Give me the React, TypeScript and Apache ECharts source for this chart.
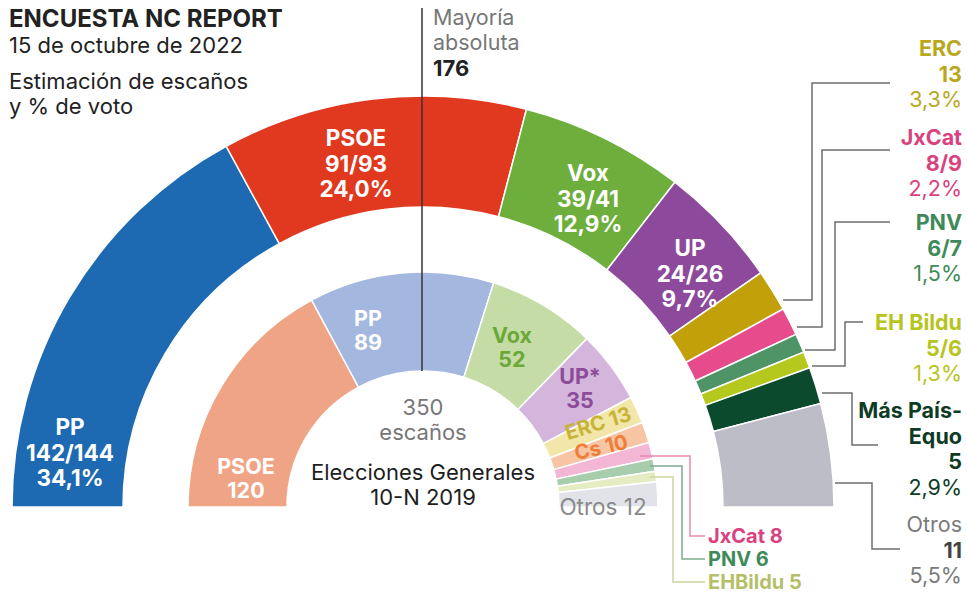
import React, { useEffect, useRef } from "react";
import * as echarts from "echarts";

// ---- Outer ring: NC Report poll, 15 Oct 2022 (arc proportional to vote share) ----
const outerNames = ["PP", "PSOE", "Vox", "UP", "ERC", "JxCat", "PNV", "EH Bildu", "Más País-Equo", "Otros"];
const outerSeats = ["142/144", "91/93", "39/41", "24/26", "13", "8/9", "6/7", "5/6", "5", "11"];
const outerVote = ["34,1%", "24,0%", "12,9%", "9,7%", "3,3%", "2,2%", "1,5%", "1,3%", "2,9%", "5,5%"];
const outerArc = [34.1, 24.0, 12.9, 9.7, 3.3, 2.2, 1.5, 1.3, 2.9, 8.1];
const outerColors = ["#1d6ab3", "#e1391f", "#6dae3d", "#8d4a9c", "#c1a00a", "#e64c8b", "#4f9467", "#b4c81e", "#0b4a2c", "#bcbdc7"];

// ---- Inner ring: general election 10-N 2019 (seats) ----
const innerNames = ["PSOE", "PP", "Vox", "UP*", "ERC", "Cs", "JxCat", "PNV", "EHBildu", "Otros"];
const innerSeats = [120, 89, 52, 35, 13, 10, 8, 6, 5, 12];
const innerColors = ["#efa585", "#a4b7df", "#c6dca6", "#d4b5dc", "#f2e7a9", "#f8c5a4", "#f3b6d4", "#a7cdad", "#e5ecc2", "#e2e3e8"];

const FONT = "Inter, Roboto, 'Noto Sans', sans-serif";

function txt(x: number, y: number, text: string, opts: any = {}) {
  const align = opts.align || "center";
  return {
    type: "text",
    x,
    y,
    rotation: opts.rotation || 0,
    z: 50,
    style: {
      text,
      fill: opts.fill || "#222",
      font: `${opts.weight || "normal"} ${opts.size || 22}px ${FONT}`,
      align,
      textAlign: align,
      verticalAlign: "middle",
      textVerticalAlign: "middle",
      lineHeight: opts.lineHeight || 25,
    },
  };
}

function poly(points: number[][], stroke: string, width = 1.5) {
  return {
    type: "polyline",
    z: 40,
    shape: { points },
    style: { stroke, lineWidth: width, fill: null },
  };
}

export default function App() {
  const ref = useRef<HTMLDivElement>(null);
  useEffect(() => {
    if (!ref.current) return;
    const chart = echarts.init(ref.current, undefined, { renderer: "svg" });

    const outerLabelPos: Record<number, number[]> = { 0: [70, 452], 1: [356, 163], 2: [588, 198], 3: [690, 273] };
    const innerLabelPos: Record<number, any> = {
      0: { p: [246, 478], fill: "#fff" },
      1: { p: [368, 330], fill: "#fff" },
      2: { p: [512, 347], fill: "#6ba83a" },
      3: { p: [580, 388], fill: "#8c4c9a" },
    };

    const graphics: any[] = [];
    // Titles
    graphics.push(txt(9, 18, "ENCUESTA NC REPORT", { align: "left", weight: "bold", size: 24, lineHeight: 26 }));
    graphics.push(txt(9, 45, "15 de octubre de 2022", { align: "left", size: 22, lineHeight: 24 }));
    graphics.push(txt(9, 81, "Estimación de escaños", { align: "left", size: 22, lineHeight: 24 }));
    graphics.push(txt(9, 106, "y % de voto", { align: "left", size: 22, lineHeight: 24 }));

    // Majority line + label
    graphics.push({ type: "line", z: 45, shape: { x1: 422, y1: 8, x2: 422, y2: 371 }, style: { stroke: "#333", lineWidth: 1.5 } });
    graphics.push(txt(433, 17, "Mayoría", { align: "left", fill: "#777", size: 21.5, lineHeight: 24 }));
    graphics.push(txt(433, 42, "absoluta", { align: "left", fill: "#777", size: 21.5, lineHeight: 24 }));
    graphics.push(txt(433, 67.5, "176", { align: "left", weight: "bold", size: 22, lineHeight: 25 }));

    // Outer ring big labels
    Object.keys(outerLabelPos).forEach((k) => {
      const i = Number(k);
      const [x, y] = outerLabelPos[i];
      graphics.push(txt(x, y, `${outerNames[i]}\n${outerSeats[i]}\n${outerVote[i]}`, { fill: "#fff", weight: "bold", size: 22.5, lineHeight: 25.5 }));
    });

    // Right-side labels with leader lines
    const rightLabels = [
      { i: 4, lines: ["ERC"], color: "#b9a71c", y: 48, lead: [[783, 300], [812, 300], [812, 83], [890, 83]] },
      { i: 5, lines: ["JxCat"], color: "#d9427e", y: 137, lead: [[797, 327], [822, 327], [822, 150], [890, 150]] },
      { i: 6, lines: ["PNV"], color: "#3f8a5a", y: 222, lead: [[805, 350], [835, 350], [835, 222], [890, 222]] },
      { i: 7, lines: ["EH Bildu"], color: "#b6c41e", y: 322, lead: [[812, 366], [845, 366], [845, 322], [863, 322]] },
      { i: 8, lines: ["Más País-", "Equo"], color: "#0e3b25", y: 410, lead: [[822, 393], [852, 393], [852, 445], [878, 445]] },
      { i: 9, lines: ["Otros"], color: "#7a7a7a", y: 524, lead: [[835, 483], [872, 483], [872, 549], [900, 549]] },
    ];
    rightLabels.forEach((r) => {
      const isOtros = r.i === 9;
      let y = r.y;
      r.lines.forEach((l) => {
        graphics.push(txt(962, y, l, { align: "right", weight: isOtros ? "normal" : "bold", fill: r.color, size: 21.5 }));
        y += 25.5;
      });
      graphics.push(txt(962, y, outerSeats[r.i], { align: "right", weight: "bold", fill: isOtros ? "#444" : r.color, size: 21.5 }));
      y += 25.5;
      graphics.push(txt(962, y, outerVote[r.i], { align: "right", fill: r.color, size: 21.5 }));
      graphics.push(poly(r.lead, "#6e6e6e", 1.5));
    });

    // Inner ring labels
    Object.keys(innerLabelPos).forEach((k) => {
      const i = Number(k);
      const o = innerLabelPos[i];
      graphics.push(txt(o.p[0], o.p[1], `${innerNames[i]}\n${innerSeats[i]}`, { fill: o.fill, weight: "bold", size: 21.5, lineHeight: 24.5 }));
    });
    graphics.push(txt(598, 423, `${innerNames[4]} ${innerSeats[4]}`, { fill: "#c7b33a", weight: "bold", size: 20.5, lineHeight: 22, rotation: 0.3 }));
    graphics.push(txt(601, 447, `${innerNames[5]} ${innerSeats[5]}`, { fill: "#ee7e3a", weight: "bold", size: 20.5, lineHeight: 22, rotation: 0.22 }));
    graphics.push(txt(603, 506, `${innerNames[9]} ${innerSeats[9]}`, { fill: "#8a8a8a", size: 22.5, lineHeight: 24 }));

    // Inner small parties with coloured leaders
    const innerSmall = [
      { i: 6, color: "#d9427e", line: "#e58ab0", y: 536, lead: [[640, 456], [690, 456], [690, 536], [705, 536]] },
      { i: 7, color: "#3f8a5a", line: "#7faa8e", y: 559, lead: [[650, 466], [682, 466], [682, 559], [705, 559]] },
      { i: 8, color: "#b5bf6a", line: "#cdd49e", y: 582, lead: [[650, 477], [673, 477], [673, 582], [705, 582]] },
    ];
    innerSmall.forEach((s) => {
      graphics.push(poly(s.lead, s.line, 1.5));
      graphics.push(txt(708, s.y, `${innerNames[s.i]} ${innerSeats[s.i]}`, { align: "left", fill: s.color, weight: "bold", size: 20, lineHeight: 22 }));
    });

    // Centre texts
    const total = innerSeats.reduce((a, b) => a + b, 0);
    graphics.push(txt(423, 407, String(total), { fill: "#777", size: 22, lineHeight: 24 }));
    graphics.push(txt(423, 432, "escaños", { fill: "#777", size: 22, lineHeight: 24 }));
    graphics.push(txt(423, 472, "Elecciones Generales", { fill: "#1e1e1e", size: 22, lineHeight: 24 }));
    graphics.push(txt(423, 497, "10-N 2019", { fill: "#1e1e1e", size: 22, lineHeight: 24 }));

    chart.setOption({
      animation: false,
      backgroundColor: "#fff",
      series: [
        {
          type: "pie",
          silent: true,
          center: [423, 507],
          radius: [300, 411],
          startAngle: 180,
          endAngle: 0,
          clockwise: true,
          label: { show: false },
          labelLine: { show: false },
          itemStyle: { borderColor: "#fff", borderWidth: 1.5 },
          data: outerNames.map((n, i) => ({ name: n, value: outerArc[i], itemStyle: { color: outerColors[i] } })),
        },
        {
          type: "pie",
          silent: true,
          center: [423, 507],
          radius: [136, 235],
          startAngle: 180,
          endAngle: 0,
          clockwise: true,
          label: { show: false },
          labelLine: { show: false },
          itemStyle: { borderColor: "#fff", borderWidth: 1.5 },
          data: innerNames.map((n, i) => ({ name: n, value: innerSeats[i], itemStyle: { color: innerColors[i] } })),
        },
      ],
      graphic: { elements: graphics },
    });
    return () => chart.dispose();
  }, []);
  return <div ref={ref} style={{ position: "fixed", left: 0, top: 0, width: 967, height: 595 }} />;
}
